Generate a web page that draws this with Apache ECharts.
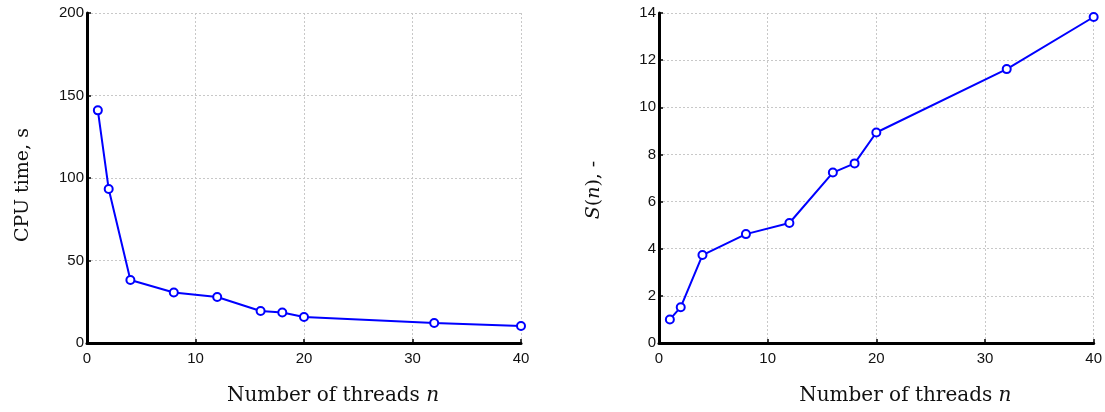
<!DOCTYPE html>
<html>
<head>
<meta charset="utf-8">
<script src="https://cdn.jsdelivr.net/npm/echarts@6/dist/echarts.min.js"></script>
<style>
  html, body { margin: 0; padding: 0; background: #fff; }
  #chart { width: 1105px; height: 412px; }
</style>
</head>
<body>
<div id="chart"></div>
<script>
// number of threads and measured values
var threads = [1, 2, 4, 8, 12, 16, 18, 20, 32, 40];
var cpuTime = [141, 93.3, 38.2, 30.6, 27.9, 19.4, 18.5, 15.8, 12.1, 10.3];
var speedup = [1.0, 1.52, 3.73, 4.62, 5.09, 7.23, 7.62, 8.93, 11.62, 13.83];

var chart = echarts.init(document.getElementById("chart"));

var serif = "DejaVu Serif";
var sans = "Liberation Sans";

function pairs(xs, ys) {
  return xs.map(function (x, i) { return [x, ys[i]]; });
}

var richX = {
  r: { fontFamily: serif, fontSize: 20, color: "#111" },
  i: { fontFamily: serif, fontSize: 20, fontStyle: "italic", color: "#111" }
};
var richY = {
  r: { fontFamily: serif, fontSize: 19, color: "#111" },
  i: { fontFamily: serif, fontSize: 19, fontStyle: "italic", color: "#111" }
};

function xAxisCfg(gridIndex) {
  return {
    type: "value",
    gridIndex: gridIndex,
    min: 0,
    max: 40,
    interval: 10,
    name: "{r|Number of threads }{i|n}",
    nameLocation: "middle",
    nameGap: 43,
    nameTextStyle: { padding: [0, 0, 0, 58], rich: richX },
    axisLine: { show: true, onZero: false, lineStyle: { color: "#000", width: 3 } },
    axisTick: { show: true, inside: true, length: 4, lineStyle: { color: "#000", width: 1.5 } },
    axisLabel: { fontFamily: sans, fontSize: 15, color: "#111", margin: 8 },
    splitLine: { show: true, lineStyle: { color: "#c8c8c8", type: [2, 2], width: 1 } }
  };
}

function yAxisCfg(gridIndex, max, interval, name, gap, pad) {
  return {
    type: "value",
    gridIndex: gridIndex,
    min: 0,
    max: max,
    interval: interval,
    name: name,
    nameLocation: "middle",
    nameGap: gap,
    nameRotate: 90,
    nameTextStyle: { padding: pad, rich: richY },
    axisLine: { show: true, onZero: false, lineStyle: { color: "#000", width: 3 } },
    axisTick: { show: true, inside: true, length: 4, lineStyle: { color: "#000", width: 1.5 } },
    axisLabel: { fontFamily: sans, fontSize: 15, color: "#111", margin: 3 },
    splitLine: { show: true, lineStyle: { color: "#c8c8c8", type: [2, 2], width: 1 } }
  };
}

function lineSeries(idx, data) {
  return {
    type: "line",
    xAxisIndex: idx,
    yAxisIndex: idx,
    data: data,
    symbol: "circle",
    symbolSize: 8,
    lineStyle: { color: "#0000ff", width: 2 },
    itemStyle: { color: "#fff", borderColor: "#0000ff", borderWidth: 2 },
    animation: false
  };
}

var option = {
  backgroundColor: "#fff",
  grid: [
    { left: 87, right: 584, top: 13, bottom: 69 },
    { left: 659, right: 11, top: 13, bottom: 69 }
  ],
  xAxis: [xAxisCfg(0), xAxisCfg(1)],
  yAxis: [
    yAxisCfg(0, 200, 50, "{r|CPU time, s}", 54, [0, 14, 0, 0]),
    yAxisCfg(1, 14, 2, "{i|S}{r|(}{i|n}{r|), -}", 55, [0, 24, 0, 0])
  ],
  series: [
    lineSeries(0, pairs(threads, cpuTime)),
    lineSeries(1, pairs(threads, speedup))
  ]
};

chart.setOption(option);
</script>
</body>
</html>
